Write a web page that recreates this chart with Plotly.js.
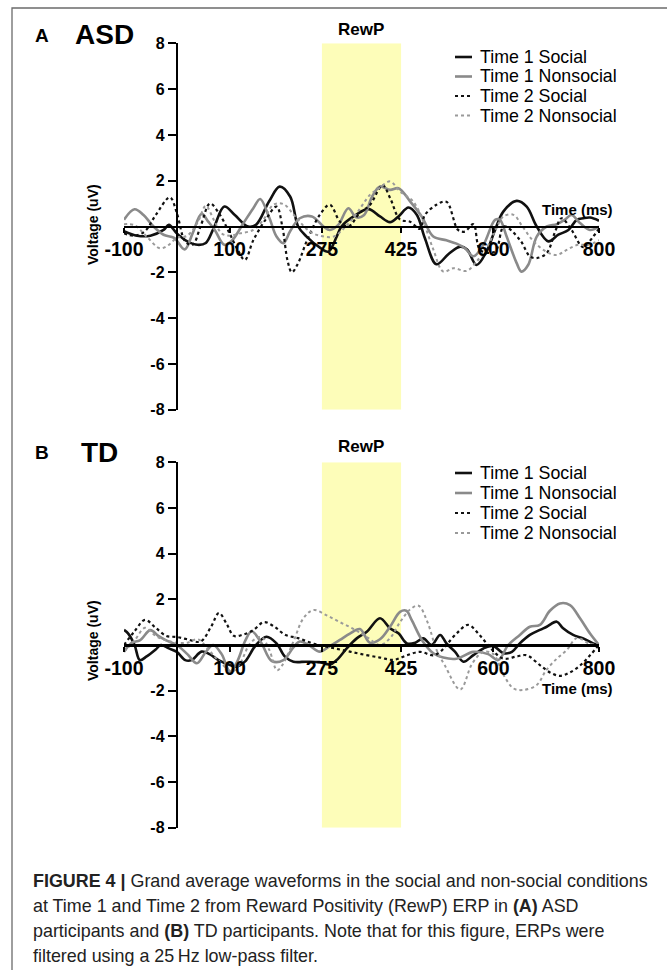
<!DOCTYPE html>
<html>
<head>
<meta charset="utf-8">
<script src="https://cdn.plot.ly/plotly-3.0.1.min.js"></script>
<style>html,body{margin:0;padding:0;background:#fff}#chart{width:667px;height:970px}</style>
</head>
<body>
<div id="chart"></div>
<script>
// ---------- DATA ----------
const seriesNames = ["Time 1 Social", "Time 1 Nonsocial", "Time 2 Social", "Time 2 Nonsocial"];
const xTickVals = [-100, 100, 275, 425, 600, 800];
const yTickVals = [-8, -6, -4, -2, 2, 4, 6, 8];
const rewpWindow = [275, 425];

// Panel A (ASD)
const asdT1SocialT = [-100,-75,-50,-25,-15,0,20,40,55,70,90,110,135,150,175,195,215,230,246,270,287,303,312,335,363,385,404,420,439,455,470,492,515,537,550,568,587,603,619,644,663,682,704,723,742,758,770,783,800];
const asdT1SocialV = [-0.2,-0.4,-0.4,-0.15,0.07,-0.3,-0.65,-0.8,-0.72,-0.07,0.87,0.5,0.0,0.07,1.1,1.74,1.3,0.0,-0.44,-0.9,-1.1,-0.44,0.0,0.44,0.76,0.44,0.19,0.44,0.83,0.5,-0.5,-1.65,-1.2,-0.88,-1.0,-1.68,-1.09,-0.15,0.66,1.12,0.87,0.0,-0.65,-0.36,-0.15,0.29,0.36,0.39,0.25];

const asdT1NonsocialT = [-100,-80,-63,-44,-25,-5,15,30,47,60,72,90,105,125,145,158,175,189,202,215,233,256,278,290,306,325,340,355,370,385,404,420,442,464,486,511,530,546,562,581,603,612,625,644,653,666,682,701,720,735,748,764,783,800];
const asdT1NonsocialV = [0.3,0.75,0.5,0.0,-0.36,-0.5,-1.0,-0.3,0.55,0.2,-0.15,-0.8,-0.6,0.1,0.8,1.2,0.4,-0.44,-0.73,-0.2,0.36,0.44,0.0,-0.15,0.07,0.8,0.4,0.5,1.3,1.75,1.6,1.67,1.1,0.44,-0.44,-0.6,-0.75,-0.95,-1.3,-0.8,0.29,0.3,-0.44,-1.6,-1.97,-1.67,-0.44,0.0,0.1,0.29,0.5,0.15,-0.15,0.0];

const asdT2SocialT = [-100,-80,-60,-40,-13,0,16,30,45,63,82,100,115,129,145,170,189,200,210,218,230,246,271,290,309,325,347,366,385,391,405,423,442,461,470,492,511,533,546,562,575,603,620,650,669,682,701,717,729,748,770,789,800];
const asdT2SocialV = [-0.3,-0.4,-0.2,0.5,1.27,0.6,-0.65,-0.8,0.0,1.0,0.5,-0.3,-1.0,-1.46,-0.6,0.36,0.87,0.0,-1.5,-2.0,-1.6,-0.65,0.51,0.95,0.22,0.0,0.6,0.94,1.7,1.8,1.2,0.3,0.21,-0.1,0.5,0.95,1.08,-0.15,-0.22,0.1,-1.03,-1.09,0.0,-0.58,-1.3,-1.38,-1.16,-0.22,0.36,-0.15,-0.9,-0.44,-0.1];

const asdT2NonsocialT = [-100,-80,-57,-32,-15,0,20,40,55,70,85,100,120,145,164,183,202,227,252,271,297,320,341,366,385,404,423,448,467,486,505,524,549,568,587,603,619,638,655,676,700,720,739,760,780,800];
const asdT2NonsocialV = [0.1,0.05,-0.44,-0.95,-0.8,-0.5,-0.4,0.2,0.9,0.3,-0.3,-0.4,-0.3,-0.15,0.29,0.95,0.98,0.36,-0.22,-0.4,-0.44,0.0,0.58,1.38,1.7,1.97,1.53,1.09,0.22,-1.0,-1.97,-1.82,-1.94,-1.53,-0.95,-0.2,0.44,0.51,0.0,-0.65,-1.1,-1.24,-1.02,-0.8,-0.8,-0.6];

// Panel B (TD)
const tdT1SocialT = [-100,-92,-80,-70,-57,-40,-30,-15,0,16,28,47,62,79,101,113,129,150,170,189,205,221,246,270,290,303,322,341,360,385,404,420,436,452,467,483,499,511,527,543,562,581,600,619,635,650,669,688,701,720,732,751,770,789,800];
const tdT1SocialV = [0.66,0.5,0.0,-0.66,-0.5,-0.2,0.0,-0.15,-0.3,-0.66,-0.66,-0.29,-0.4,-0.66,-0.88,-0.95,-0.73,0.0,0.36,0.07,-0.51,-0.73,-0.73,-0.75,-0.85,-0.66,-0.15,0.29,0.58,1.17,0.73,0.51,0.07,0.1,0.29,0.0,0.44,0.07,-0.29,-0.73,-0.44,-0.15,-0.05,-0.36,-0.3,0.07,0.44,0.66,0.8,1.02,0.73,0.44,0.29,0.07,0.0];

const tdT1NonsocialT = [-100,-85,-70,-50,-35,-20,0,20,38,55,69,85,101,115,130,142,160,180,202,221,233,250,271,290,309,328,347,366,385,404,423,435,445,465,486,505,530,562,590,609,628,650,669,688,707,726,745,764,783,800];
const tdT1NonsocialV = [-0.3,0.1,0.2,0.65,0.4,0.2,0.0,-0.4,-0.8,-0.3,0.0,-0.4,-1.17,-0.7,0.2,0.6,0.1,-0.7,-0.66,-0.1,0.15,0.0,-0.29,-0.05,0.22,0.5,0.7,0.1,0.25,0.8,1.45,1.5,1.1,0.2,-0.36,-0.55,-0.6,-0.3,-0.4,-0.66,0.0,0.44,0.8,0.88,1.5,1.82,1.75,1.17,0.5,0.0];

const tdT2SocialT = [-100,-80,-60,-40,-20,0,20,45,65,80,95,108,125,145,165,185,205,230,260,290,320,350,385,411,436,461,486,499,511,530,552,575,597,619,644,663,688,707,726,745,764,783,800];
const tdT2SocialV = [0.0,0.6,1.1,0.75,0.4,0.35,0.25,0.15,0.8,1.4,0.9,0.4,0.45,0.65,1.0,0.8,0.45,0.3,0.05,-0.1,-0.25,-0.4,-0.55,-0.65,-0.45,-0.3,-0.45,-0.3,0.0,0.5,0.88,0.4,-0.2,-0.6,-0.5,-0.45,-0.88,-1.2,-1.35,-1.2,-0.9,-0.45,0.0];

const tdT2NonsocialT = [-100,-80,-60,-40,-20,0,20,40,60,80,105,120,140,160,175,190,200,221,240,259,284,309,335,360,385,404,423,442,458,475,492,508,537,560,581,600,619,638,656,682,700,720,739,758,783,800];
const tdT2NonsocialV = [-0.3,0.2,0.75,0.4,0.2,0.1,0.1,0.25,-0.2,-0.7,-1.15,-0.8,0.1,0.35,-0.2,-1.1,-0.88,0.15,1.17,1.53,1.3,1.0,0.7,0.35,0.0,0.3,1.0,1.55,1.72,1.0,-0.2,-0.9,-1.95,-0.8,-0.3,-0.4,-1.3,-1.9,-1.97,-1.75,-1.1,-0.6,-0.22,0.3,0.05,0.0];

// ---------- STYLE ----------
const W = 667, H = 970;
const px = v => v / W;            // pixel -> paper x
const py = v => 1 - v / H;        // pixel -> paper y
const styles = [
  {color: '#111111', width: 2.6, dash: 'solid'},
  {color: '#8a8a8a', width: 2.6, dash: 'solid'},
  {color: '#111111', width: 2.2, dash: 'dot'},
  {color: '#9a9a9a', width: 2.0, dash: 'dot'}
];
const FONT = 'Liberation Sans, Arial, Helvetica, sans-serif';

function mk(t, v, i, xa, ya) {
  return {x: t, y: v, type: 'scatter', mode: 'lines', name: seriesNames[i],
    xaxis: xa, yaxis: ya, showlegend: false, hoverinfo: 'skip',
    line: {color: styles[i].color, width: styles[i].width, dash: styles[i].dash, shape: 'spline', smoothing: 1}};
}

const traces = [
  mk(asdT1SocialT, asdT1SocialV, 0, 'x', 'y'),
  mk(asdT1NonsocialT, asdT1NonsocialV, 1, 'x', 'y'),
  mk(asdT2SocialT, asdT2SocialV, 2, 'x', 'y'),
  mk(asdT2NonsocialT, asdT2NonsocialV, 3, 'x', 'y'),
  mk(tdT1SocialT, tdT1SocialV, 0, 'x2', 'y2'),
  mk(tdT1NonsocialT, tdT1NonsocialV, 1, 'x2', 'y2'),
  mk(tdT2SocialT, tdT2SocialV, 2, 'x2', 'y2'),
  mk(tdT2NonsocialT, tdT2NonsocialV, 3, 'x2', 'y2')
];

// panel geometry (pixels)
const plotL = 124, plotR = 599;
const panels = [
  {top: 43.3, bottom: 409.7, zero: 226.5},
  {top: 462.2, bottom: 827.8, zero: 645}
];
const yAxisX = px(176.8);

function xAxis(p) {
  return {domain: [px(plotL), px(plotR)], range: [-100, 800], anchor: 'free', position: py(p.zero),
    showline: true, linecolor: '#000', linewidth: 2.5, showgrid: false, zeroline: false,
    ticks: 'outside', ticklen: 5, tickwidth: 2, tickcolor: '#000',
    tickmode: 'array', tickvals: xTickVals, ticktext: xTickVals.map(String),
    tickfont: {family: FONT, size: 19.5, color: '#000', weight: 'bold'}, fixedrange: true};
}
function yAxis(p) {
  return {domain: [py(p.bottom), py(p.top)], range: [-8, 8], anchor: 'free', position: yAxisX,
    showline: true, linecolor: '#000', linewidth: 2.5, showgrid: false, zeroline: false,
    ticks: 'outside', ticklen: 8, tickwidth: 2, tickcolor: '#000',
    tickmode: 'array', tickvals: yTickVals, ticktext: yTickVals.map(String),
    tickfont: {family: FONT, size: 16, color: '#000', weight: 'bold'}, fixedrange: true};
}

const shapes = [
  {type: 'rect', xref: 'x', yref: 'y', x0: rewpWindow[0], x1: rewpWindow[1], y0: -8, y1: 8,
   fillcolor: '#fdfdb9', line: {width: 0}, layer: 'below'},
  {type: 'rect', xref: 'x2', yref: 'y2', x0: rewpWindow[0], x1: rewpWindow[1], y0: -8, y1: 8,
   fillcolor: '#fdfdb9', line: {width: 0}, layer: 'below'},
  // figure frame
  {type: 'rect', xref: 'paper', yref: 'paper', x0: px(12), x1: px(680), y0: py(985), y1: py(8),
   fillcolor: 'rgba(0,0,0,0)', line: {color: '#6b6b6b', width: 1.3}, layer: 'below'}
];

const annotations = [];
function txt(text, x, y, size, opts) {
  annotations.push(Object.assign({text: text, xref: 'paper', yref: 'paper', x: px(x), y: py(y),
    showarrow: false, xanchor: 'center', yanchor: 'middle',
    font: {family: FONT, size: size, color: '#000'}}, opts || {}));
}

// legends (manual, one per panel)
const legendRows = [[57, 76.5, 96, 115.5], [473, 493, 513, 533]];
legendRows.forEach(rows => {
  rows.forEach((yy, i) => {
    shapes.push({type: 'line', xref: 'paper', yref: 'paper', x0: px(455), x1: px(472), y0: py(yy), y1: py(yy),
      line: {color: styles[i].color, width: styles[i].width, dash: styles[i].dash}});
    txt(seriesNames[i], 478, yy, 17.8, {xanchor: 'left'});
  });
});

// panel labels and titles
txt('<b>A</b>', 42, 36, 19);
txt('<b>ASD</b>', 104, 35, 28);
txt('<b>B</b>', 42, 452, 19);
txt('<b>TD</b>', 99, 452, 28);
txt('<b>RewP</b>', 361, 29, 17);
txt('<b>RewP</b>', 361, 447, 17);
txt('<b>Voltage (uV)</b>', 93, 225, 14, {textangle: -90});
txt('<b>Voltage (uV)</b>', 93, 641, 14, {textangle: -90});
txt('<b>Time (ms)</b>', 577, 209, 15);
txt('<b>Time (ms)</b>', 577, 688, 15);

// caption
const CAP = 'Liberation Sans, Arial, sans-serif';
const captionLines = [
  '<b>FIGURE 4 |</b> Grand average waveforms in the social and non-social conditions',
  'at Time 1 and Time 2 from Reward Positivity (RewP) ERP in <b>(A)</b> ASD',
  'participants and <b>(B)</b> TD participants. Note that for this figure, ERPs were',
  'filtered using a 25\u2009Hz low-pass filter.'
];
captionLines.forEach((l, i) => {
  annotations.push({text: l, xref: 'paper', yref: 'paper', x: px(31), y: py(881 + 25 * i),
    showarrow: false, xanchor: 'left', yanchor: 'middle', align: 'left',
    font: {family: CAP, size: 17.9, color: '#222'}});
});

const layout = {
  width: W, height: H, margin: {l: 0, r: 0, t: 0, b: 0},
  paper_bgcolor: '#fff', plot_bgcolor: 'rgba(0,0,0,0)', showlegend: false,
  xaxis: xAxis(panels[0]), yaxis: yAxis(panels[0]),
  xaxis2: xAxis(panels[1]), yaxis2: yAxis(panels[1]),
  shapes: shapes, annotations: annotations
};

Plotly.newPlot('chart', traces, layout, {displayModeBar: false, staticPlot: true});
</script>
</body>
</html>
